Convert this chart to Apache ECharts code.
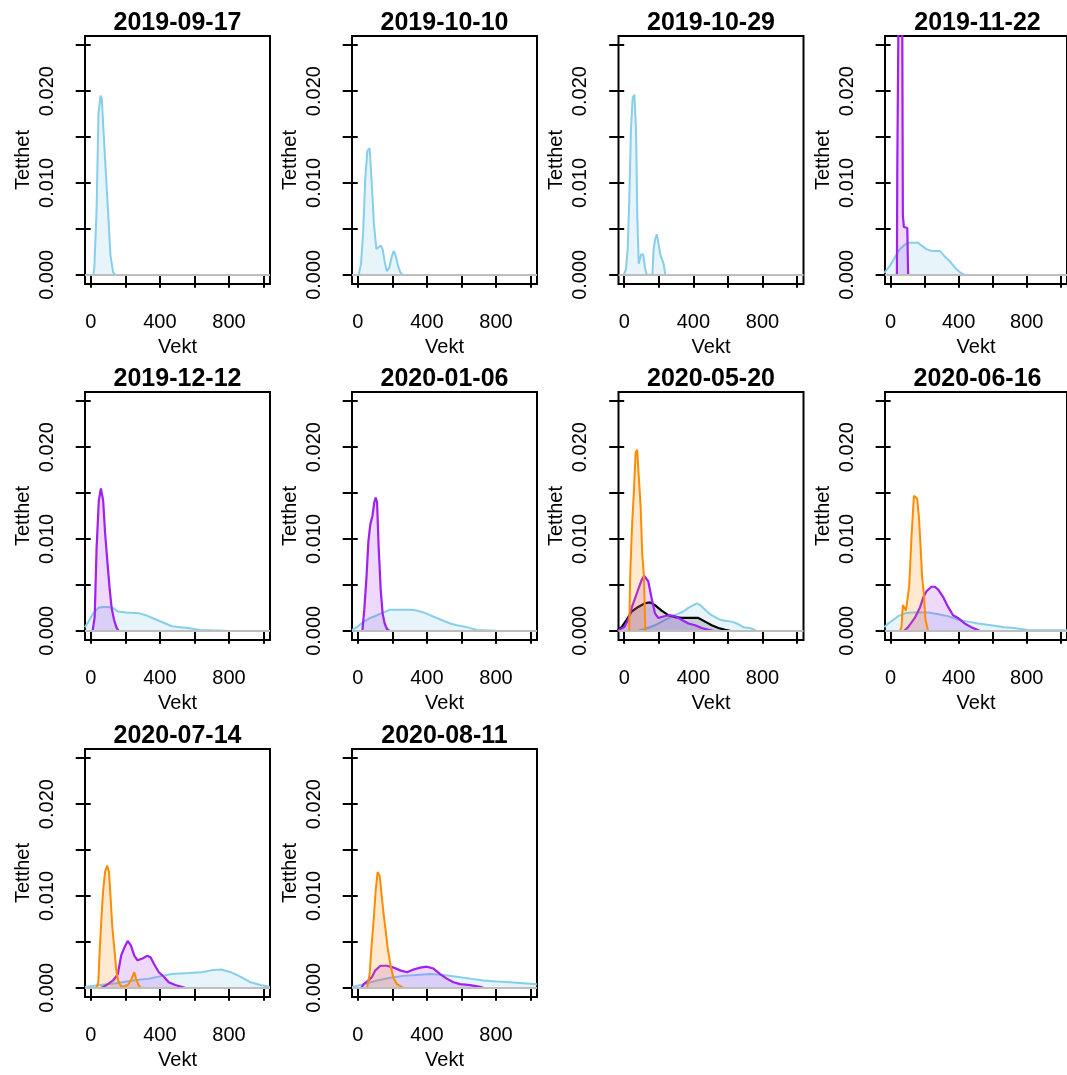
<!DOCTYPE html>
<html><head><meta charset="utf-8">
<script src="https://cdn.jsdelivr.net/npm/echarts@6/dist/echarts.min.js"></script>
<style>html,body{margin:0;padding:0;background:#fff}#c{width:1067px;height:1075px}</style>
</head><body><div id="c"></div>
<script>
// ---------- labels / ticks ----------
const panelTitles = ["2019-09-17","2019-10-10","2019-10-29","2019-11-22","2019-12-12","2020-01-06","2020-05-20","2020-06-16","2020-07-14","2020-08-11"];
const xTicks = [0,200,400,600,800,1000];
const xTickLabels = [0,400,800];
const yTicks = [0,0.005,0.010,0.015,0.020,0.025];
const yTickLabels = [0,0.010,0.020];
const xName = "Vekt";
const yName = "Tetthet";

// ---------- density curves [Vekt, Tetthet] ----------
const p1_blue = [[15,0],[21,0.0008],[34,0.0071],[45,0.0176],[57,0.0195],[64,0.0192],[74,0.0157],[87,0.0113],[100,0.007],[114,0.0022],[129,0.0003],[142,0]];

const p2_blue = [[6,0],[19,0.0012],[31,0.0044],[44,0.0106],[56,0.0135],[69,0.0138],[81,0.010],[94,0.0055],[108,0.0028],[119,0.0028],[133,0.0032],[144,0.0028],[158,0.0012],[169,0.0004],[183,0.0008],[196,0.0019],[208,0.0026],[221,0.002],[233,0.001],[246,0.0003],[260,0]];

const p3_blue = [[-2,0],[10,0.0006],[20,0.0028],[29,0.0079],[39,0.0158],[49,0.0193],[59,0.0196],[68,0.016],[76,0.0062],[84,0.0012],[98,0.0022],[110,0.0022],[120,0.0008],[130,0],[163,0],[170,0.0028],[179,0.0039],[189,0.0044],[199,0.0033],[209,0.0022],[218,0.002],[228,0.0012],[238,0]];

const p4_blue = [[-37,0.0002],[-4,0.001],[25,0.0019],[55,0.0028],[84,0.0033],[103,0.0035],[123,0.0035],[162,0.0035],[181,0.0032],[210,0.0028],[240,0.0026],[289,0.0026],[318,0.002],[347,0.0015],[377,0.0008],[406,0.0003],[435,0]];
const p4_purple = [[37,0],[39,0.0108],[47,0.03],[58,0.045],[68,0.03],[72,0.0065],[78,0.0052],[98,0.0051],[103,0]];

const p5_blue = [[-33,0.0004],[-13,0.001],[15,0.0019],[44,0.0025],[72,0.0026],[100,0.0026],[129,0.0025],[157,0.0021],[205,0.002],[281,0.0019],[318,0.0017],[356,0.0014],[394,0.0011],[432,0.0008],[470,0.0005],[517,0.0004],[565,0.0003],[631,0.0001],[697,0.00005],[783,0]];
const p5_purple = [[11,0],[23,0.0015],[34,0.009],[47,0.0142],[59,0.0155],[72,0.0142],[83,0.0107],[97,0.0074],[110,0.0045],[121,0.0025],[135,0.0012],[148,0.0004],[161,0]];

const p6_blue = [[-33,0.0001],[-4,0.0004],[35,0.001],[73,0.0014],[112,0.0017],[150,0.002],[188,0.0023],[227,0.0023],[304,0.0023],[342,0.0022],[381,0.002],[419,0.0017],[458,0.0014],[496,0.0011],[535,0.0008],[573,0.0006],[631,0.0004],[688,0.0001],[804,0]];
const p6_purple = [[27,0],[38,0.0023],[50,0.0056],[62,0.0098],[73,0.0116],[85,0.0125],[96,0.014],[104,0.0145],[112,0.014],[121,0.0092],[133,0.0045],[144,0.0019],[156,0.0008],[169,0.0002],[185,0]];

const p7_blue = [[81,0],[120,0.0002],[178,0.0006],[236,0.0012],[294,0.0017],[342,0.0021],[371,0.0025],[400,0.0028],[419,0.003],[439,0.0028],[468,0.0023],[497,0.0018],[526,0.0015],[555,0.0012],[584,0.0011],[622,0.001],[651,0.0008],[690,0.0004],[729,0.0003],[767,0]];
const p7_black = [[-44,0],[-15,0.0004],[14,0.0012],[43,0.0021],[81,0.0026],[120,0.003],[149,0.0031],[178,0.0028],[216,0.0022],[255,0.0017],[294,0.0015],[332,0.0014],[371,0.0014],[429,0.0014],[468,0.001],[506,0.0006],[545,0.0003],[584,0.0001],[613,0]];
const p7_purple = [[-40,0],[0,0.0004],[23,0.0012],[43,0.0025],[62,0.0035],[81,0.0045],[100,0.0055],[115,0.006],[125,0.0061],[139,0.0054],[158,0.0036],[178,0.0019],[197,0.0014],[216,0.0015],[255,0.0017],[294,0.0016],[332,0.0012],[371,0.0008],[410,0.0006],[448,0.0003],[487,0.0001],[516,0]];
const p7_orange = [[29,0],[35,0.0063],[46,0.0117],[56,0.0151],[66,0.0194],[75,0.0197],[85,0.0166],[95,0.0135],[104,0.0085],[114,0.006],[118,0.0058],[122,0]];

const p8_blue = [[-37,0.0004],[-14,0.0008],[16,0.0012],[45,0.0016],[84,0.0019],[123,0.002],[220,0.002],[279,0.0018],[337,0.0016],[396,0.0012],[455,0.001],[513,0.0008],[591,0.0006],[669,0.0004],[728,0.0003],[806,0.0001],[923,0.00005],[1037,0.00005]];
const p8_purple = [[80,0],[103,0.0004],[142,0.0014],[172,0.0025],[191,0.0036],[211,0.0043],[240,0.0048],[259,0.0048],[279,0.0045],[308,0.0037],[338,0.0026],[367,0.0017],[396,0.0014],[435,0.0008],[474,0.0004],[523,0]];
const p8_orange = [[55,0],[64,0.0004],[72,0.0028],[80,0.003],[90,0.0022],[100,0.0022],[109,0.0048],[123,0.0103],[137,0.0147],[146,0.0149],[156,0.0144],[166,0.0125],[176,0.0092],[185,0.0059],[195,0.0041],[205,0.0012],[220,0]];

const p9_blue = [[-33,0.0001],[53,0.0003],[148,0.0005],[243,0.0008],[337,0.001],[413,0.0013],[470,0.0015],[565,0.0016],[641,0.0017],[698,0.0019],[755,0.002],[811,0.0017],[868,0.0012],[925,0.0006],[982,0.0003],[1037,0.0001]];
const p9_purple = [[63,0],[91,0.0003],[129,0.0008],[157,0.0015],[176,0.0035],[195,0.0044],[214,0.0051],[233,0.0046],[252,0.0035],[271,0.003],[300,0.0032],[328,0.0035],[347,0.0033],[366,0.0026],[394,0.0017],[423,0.0012],[451,0.0006],[489,0.0003],[546,0]];
const p9_orange = [[34,0],[44,0.0006],[53,0.0044],[63,0.0079],[72,0.0106],[83,0.0126],[95,0.0133],[106,0.0126],[116,0.0095],[125,0.0066],[136,0.0044],[148,0.0019],[159,0.0008],[171,0.0003],[186,0.0001],[214,0.0003],[233,0.0008],[243,0.0013],[252,0.0017],[262,0.001],[277,0.0003],[290,0]];

const p10_blue = [[-33,0.0001],[35,0.0004],[112,0.0008],[188,0.0011],[265,0.0013],[342,0.0014],[419,0.0015],[496,0.0014],[573,0.0012],[650,0.001],[727,0.0008],[804,0.0007],[881,0.0006],[958,0.0005],[1037,0.0004]];
const p10_purple = [[20,0],[35,0.0004],[63,0.0008],[83,0.0012],[102,0.0019],[131,0.0024],[169,0.0024],[208,0.0022],[246,0.0019],[285,0.0017],[323,0.002],[362,0.0022],[400,0.0023],[438,0.0021],[477,0.0015],[515,0.001],[554,0.0006],[592,0.0004],[650,0.0003],[708,0.0001],[727,0]];
const p10_orange = [[54,0],[69,0.0015],[81,0.0048],[92,0.0073],[104,0.0106],[115,0.0126],[127,0.0122],[138,0.0102],[150,0.008],[162,0.0062],[173,0.0044],[185,0.003],[196,0.0019],[208,0.001],[227,0.0004],[265,0]];

const panelSeries = [
  [["blue",p1_blue]],
  [["blue",p2_blue]],
  [["blue",p3_blue]],
  [["blue",p4_blue],["purple",p4_purple]],
  [["blue",p5_blue],["purple",p5_purple]],
  [["blue",p6_blue],["purple",p6_purple]],
  [["blue",p7_blue],["black",p7_black],["purple",p7_purple],["orange",p7_orange]],
  [["blue",p8_blue],["purple",p8_purple],["orange",p8_orange]],
  [["blue",p9_blue],["purple",p9_purple],["orange",p9_orange]],
  [["blue",p10_blue],["purple",p10_purple],["orange",p10_orange]]
];

// ---------- styling ----------
const styles = {
  blue:   {line:'#87CEEB', area:'rgba(135,206,235,0.28)', w:2},
  purple: {line:'#A020F0', area:'rgba(160,32,240,0.25)', w:2.2},
  orange: {line:'#FF8C00', area:'rgba(255,140,0,0.26)', w:2},
  black:  {line:'#000000', area:'rgba(0,0,0,0.22)', w:2.2}
};
const FONT = '"Liberation Sans", Arial, sans-serif';
const colLefts = [85, 352, 618.5, 885];
const rowTops = [36, 392, 749];
const W = 185, H = 248;

const grids = [], xAxes = [], yAxes = [], series = [], graphics = [];
panelTitles.forEach((t, i) => {
  const c = i % 4, r = Math.floor(i / 4);
  const left = colLefts[c], top = rowTops[r];
  grids.push({left, top, width: W, height: H, show: true, borderColor: '#000', borderWidth: 2, backgroundColor: 'transparent', containLabel: false});
  xAxes.push({
    type: 'value', gridIndex: i, min: -33, max: 1037,
    axisLine: {show: false}, splitLine: {show: false},
    axisTick: {show: true, customValues: xTicks, length: 13, lineStyle: {color: '#000', width: 2}},
    axisLabel: {customValues: xTickLabels, margin: 28, fontSize: 20, lineHeight: 20, color: '#000', fontFamily: FONT},
    name: xName, nameLocation: 'middle', nameGap: 53,
    nameTextStyle: {fontSize: 20, lineHeight: 20, color: '#000', fontFamily: FONT}
  });
  yAxes.push({
    type: 'value', gridIndex: i, min: -0.001, max: 0.026,
    axisLine: {show: false}, splitLine: {show: false},
    axisTick: {show: true, customValues: yTicks, length: 15, lineStyle: {color: '#000', width: 2}},
    axisLabel: {customValues: yTickLabels, rotate: 90, margin: 28, fontSize: 20, lineHeight: 20, color: '#000', fontFamily: FONT,
      formatter: v => Number(v).toFixed(3)},
    name: yName, nameLocation: 'middle', nameGap: 52, nameRotate: 90,
    nameTextStyle: {fontSize: 20, lineHeight: 20, color: '#000', fontFamily: FONT}
  });
  panelSeries[i].forEach(([kind, data], k) => {
    const s = styles[kind];
    const ser = {
      type: 'line', xAxisIndex: i, yAxisIndex: i, data: data,
      symbol: 'none', clip: true, silent: true,
      lineStyle: {color: s.line, width: s.w},
      areaStyle: {color: s.area, origin: 0},
      z: 2 + k
    };
    if (k === 0) {
      ser.markLine = {silent: true, symbol: 'none', label: {show: false},
        lineStyle: {color: '#BEBEBE', type: 'solid', width: 1.8},
        data: [{yAxis: 0}], animation: false};
    }
    series.push(ser);
  });
  graphics.push({type: 'text', x: left + W / 2, y: top - 13,
    style: {text: t, textAlign: 'center', textVerticalAlign: 'middle', fill: '#000',
      font: 'bold 25px ' + FONT}});
});

const chart = echarts.init(document.getElementById('c'), null, {renderer: 'canvas'});
chart.setOption({
  backgroundColor: '#fff',
  animation: false,
  grid: grids, xAxis: xAxes, yAxis: yAxes, series: series,
  graphic: graphics
});
</script></body></html>
